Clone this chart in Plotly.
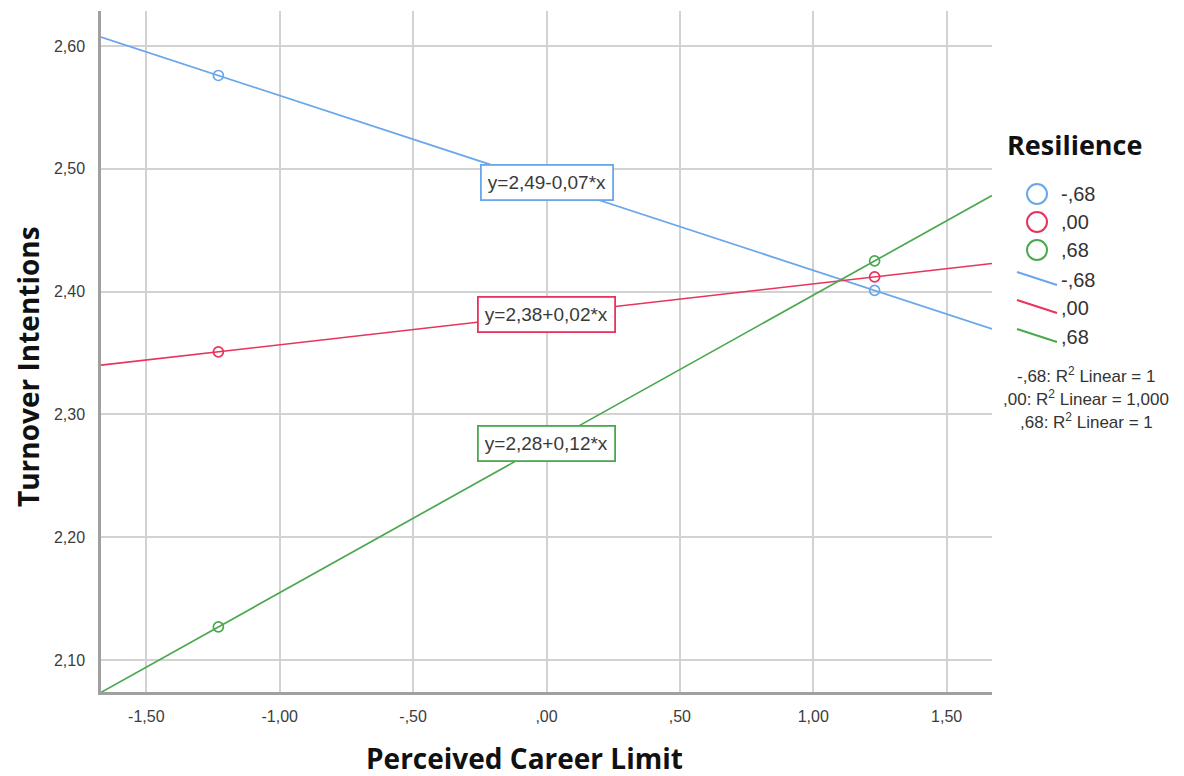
import numpy as np
import plotly.graph_objects as go

# ---- data ----
groups = ["-,68", ",00", ",68"]
x_points = [-1.23, 1.23]
y_low = [2.576, 2.351, 2.127]     # Turnover intentions at low career limit
y_high = [2.401, 2.412, 2.425]    # Turnover intentions at high career limit
eq_labels = ["y=2,49-0,07*x", "y=2,38+0,02*x", "y=2,28+0,12*x"]
r2_labels = ["-,68: R<sup>2</sup> Linear = 1", ",00: R<sup>2</sup> Linear = 1,000", ",68: R<sup>2</sup> Linear = 1"]
colors = ["#6aa6ec", "#e8345c", "#4aa84e"]

x_ticks = [-1.5, -1.0, -0.5, 0.0, 0.5, 1.0, 1.5]
x_ticktext = ["-1,50", "-1,00", "-,50", ",00", ",50", "1,00", "1,50"]
y_ticks = [2.1, 2.2, 2.3, 2.4, 2.5, 2.6]
y_ticktext = ["2,10", "2,20", "2,30", "2,40", "2,50", "2,60"]
x_range = [-1.67, 1.67]
y_range = [2.074, 2.6285]

# page body has an 8px margin; lay out in screen pixels and compensate
OFF = 8
W, H = 1184 - OFF, 776 - OFF
L, T = 101 - OFF, 11 - OFF
R = W - (992 - OFF)
B = H - (692 - OFF)
PW, PH = W - L - R, H - T - B


def px(xp):
    return (xp - OFF - L) / PW


def py(yp):
    return (H - B - (yp - OFF)) / PH


tick_font = dict(family="Liberation Sans, Arial, sans-serif", size=16, color="#3c3c3c")
title_font = dict(family="Open Sans, Lato, sans-serif", size=28, color="#111111")

fig = go.Figure()

for i, g in enumerate(groups):
    ys = [y_low[i], y_high[i]]
    slope, icpt = np.polyfit(x_points, ys, 1)
    xl = np.array(x_range)
    fig.add_trace(go.Scatter(
        x=xl, y=icpt + slope * xl, mode="lines",
        line=dict(color=colors[i], width=1.7), showlegend=False, hoverinfo="skip"))
    fig.add_trace(go.Scatter(
        x=x_points, y=ys, mode="markers", name=g,
        marker=dict(symbol="circle-open", size=10, color=colors[i], line=dict(width=1.7)),
        showlegend=False))
    fig.add_annotation(
        x=0, y=icpt, xref="x", yref="y", text=eq_labels[i], showarrow=False,
        font=dict(family="Liberation Sans, Arial, sans-serif", size=19, color="#3a3a3a"),
        bgcolor="white", bordercolor=colors[i], borderwidth=1.8, borderpad=6)

# custom legend
fig.add_annotation(x=px(1005), y=py(145), xref="paper", yref="paper", xanchor="left", yanchor="middle",
                   text="<b>Resilience</b>", showarrow=False,
                   font=dict(family="Open Sans, Lato, sans-serif", size=27, color="#111111"))
leg_font = dict(family="Liberation Sans, Arial, sans-serif", size=20, color="#333333")
circ_y = [194, 222, 250]
line_y = [280, 308, 337]
for i, g in enumerate(groups):
    fig.add_shape(type="circle", xref="paper", yref="paper", xsizemode="pixel", ysizemode="pixel",
                  xanchor=px(1037), yanchor=py(circ_y[i]), x0=-10, x1=10, y0=-10, y1=10,
                  line=dict(color=colors[i], width=2))
    fig.add_annotation(x=px(1059), y=py(circ_y[i]), xref="paper", yref="paper", xanchor="left",
                       yanchor="middle", text=g, showarrow=False, font=leg_font)
    fig.add_shape(type="line", xref="paper", yref="paper",
                  x0=px(1017), y0=py(line_y[i] - 8), x1=px(1057), y1=py(line_y[i] + 5),
                  line=dict(color=colors[i], width=2))
    fig.add_annotation(x=px(1059), y=py(line_y[i]), xref="paper", yref="paper", xanchor="left",
                       yanchor="middle", text=g, showarrow=False, font=leg_font)

r2_y = [375, 398, 421]
for i, t in enumerate(r2_labels):
    fig.add_annotation(x=px(1086), y=py(r2_y[i]), xref="paper", yref="paper", xanchor="center",
                       yanchor="middle", text=t, showarrow=False,
                       font=dict(family="Liberation Sans, Arial, sans-serif", size=17, color="#333333"))

# axis titles
fig.add_annotation(x=px(524), y=py(758), xref="paper", yref="paper", text="<b>Perceived Career Limit</b>",
                   showarrow=False, font=title_font, xanchor="center", yanchor="middle")
fig.add_annotation(x=px(28), y=py(367), xref="paper", yref="paper", text="<b>Turnover Intentions</b>",
                   showarrow=False, font=title_font, textangle=-90, xanchor="center", yanchor="middle")

fig.update_xaxes(range=x_range, tickvals=x_ticks, ticktext=x_ticktext, tickfont=tick_font,
                 showgrid=True, gridcolor="#d2d2d2", gridwidth=2, zeroline=False,
                 showline=True, linecolor="#a0a0a0", linewidth=2.5, ticks="", ticklabelstandoff=8)
fig.update_yaxes(range=y_range, tickvals=y_ticks, ticktext=y_ticktext, tickfont=tick_font,
                 showgrid=True, gridcolor="#d2d2d2", gridwidth=2, zeroline=False,
                 showline=True, linecolor="#a0a0a0", linewidth=2.5, ticks="", ticklabelstandoff=10)

fig.update_layout(width=W, height=H, margin=dict(l=L, r=R, t=T, b=B),
                  plot_bgcolor="white", paper_bgcolor="white", showlegend=False)

fig.write_html("out.html")
